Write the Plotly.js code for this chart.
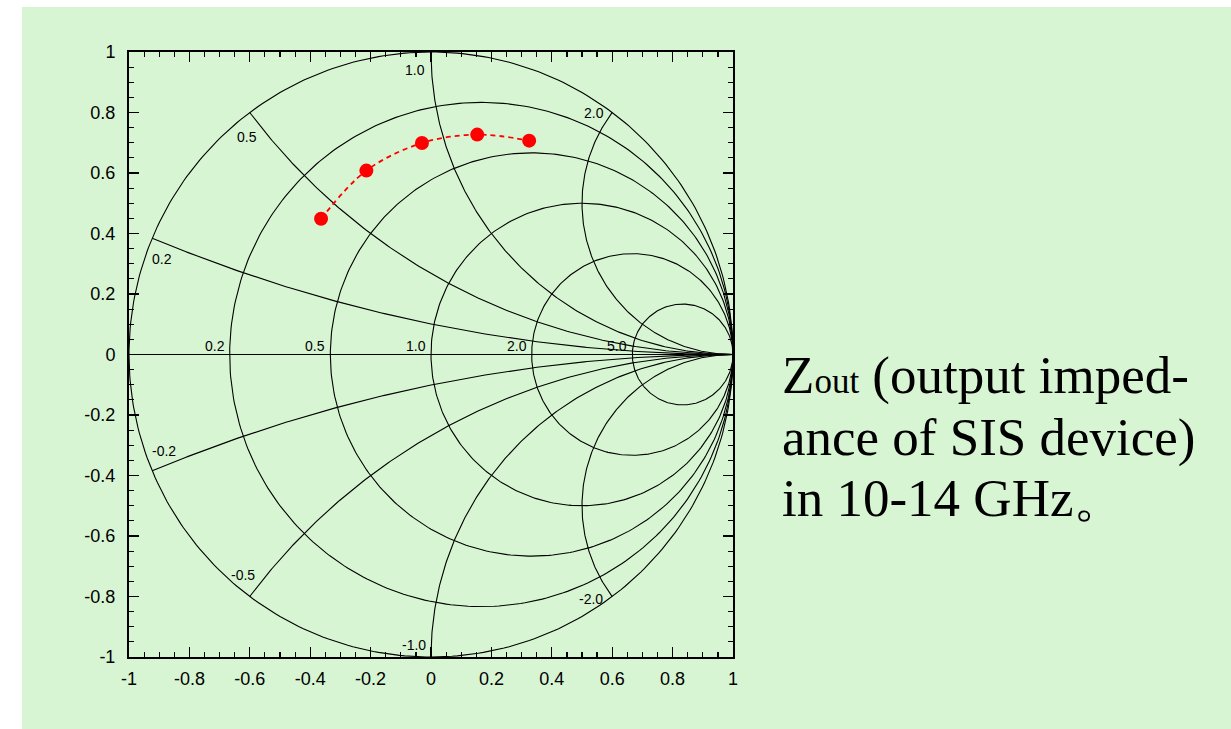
<!DOCTYPE html>
<html><head><meta charset="utf-8">
<script src="https://cdn.plot.ly/plotly-3.0.1.min.js"></script>
<style>
html,body{margin:0;padding:0;background:#ffffff;width:1231px;height:729px;overflow:hidden}
#chart{position:absolute;left:22px;top:7px;width:1209px;height:722px}
</style></head><body><div id="chart"></div>
<script>
// ---- data ----
const gammaRe = [-0.364, -0.214, -0.030, 0.153, 0.325];
const gammaIm = [0.449, 0.608, 0.699, 0.727, 0.707];
const resistanceValues = [0.2, 0.5, 1, 2, 5];
const reactanceValues = [0.2, 0.5, 1, 2, -0.2, -0.5, -1, -2];
const tickVals = [-1, -0.8, -0.6, -0.4, -0.2, 0, 0.2, 0.4, 0.6, 0.8, 1];
const tickLabels = ["-1", "-0.8", "-0.6", "-0.4", "-0.2", "0", "0.2", "0.4", "0.6", "0.8", "1"];
const noteLines = [
  "Z<span style=\"font-size:35px\">out</span> (output imped-",
  "ance of SIS device)",
  "in 10-14 GHz\u3002"
];

// ---- Smith chart grid ----
const gridStyle = {color: '#000000', width: 1.1};
const traces = [];
function addLine(xs, ys) {
  traces.push({type: 'scatter', mode: 'lines', x: xs, y: ys, line: gridStyle,
               hoverinfo: 'skip', showlegend: false});
}
function circlePts(cx, cy, R) {
  const xs = [], ys = [];
  for (let i = 0; i <= 360; i++) {
    const a = i * Math.PI / 180;
    xs.push(cx + R * Math.cos(a)); ys.push(cy + R * Math.sin(a));
  }
  return [xs, ys];
}
// outer circle (r = 0)
let c = circlePts(0, 0, 1); addLine(c[0], c[1]);
// real axis
addLine([-1, 1], [0, 0]);
// constant-resistance circles
resistanceValues.forEach(r => {
  const p = circlePts(r / (1 + r), 0, 1 / (1 + r)); addLine(p[0], p[1]);
});
// constant-reactance arcs (inside unit circle)
function reactanceEnd(x) {
  return [(x * x - 1) / (x * x + 1), 2 * x / (x * x + 1)];
}
reactanceValues.forEach(x => {
  const cy = 1 / x, R = 1 / Math.abs(x);
  const P = reactanceEnd(x);
  let a0 = x > 0 ? -Math.PI / 2 : Math.PI / 2;
  let a1 = Math.atan2(P[1] - cy, P[0] - 1);
  if (x > 0 && a1 > a0) a1 -= 2 * Math.PI;
  if (x < 0 && a1 < a0) a1 += 2 * Math.PI;
  const xs = [], ys = [];
  const n = 200;
  for (let i = 0; i <= n; i++) {
    const a = a0 + (a1 - a0) * i / n;
    xs.push(1 + R * Math.cos(a)); ys.push(cy + R * Math.sin(a));
  }
  addLine(xs, ys);
});

// measured data
traces.push({
  type: 'scatter', mode: 'lines+markers', x: gammaRe, y: gammaIm,
  line: {color: '#ff0000', width: 1.8, dash: '5px,4px', shape: 'spline'},
  marker: {color: '#ff0000', size: 14},
  showlegend: false
});

// ---- labels ----
const labelFont = {family: 'Liberation Sans, Arial, sans-serif', size: 14, color: '#000000'};
const annotations = [];
resistanceValues.forEach(r => {
  annotations.push({x: (r - 1) / (r + 1), y: 0, xref: 'x', yref: 'y', text: r.toFixed(1),
    showarrow: false, xanchor: 'right', yanchor: 'bottom', xshift: -3, yshift: -1, font: labelFont});
});
const reactPlacement = {
  '0.2':  {xanchor: 'left',   yanchor: 'top',    xshift: -2, yshift: -11},
  '0.5':  {xanchor: 'center', yanchor: 'top',    xshift: -3, yshift: -14},
  '1':    {xanchor: 'right',  yanchor: 'top',    xshift: -4, yshift: -8},
  '2':    {xanchor: 'right',  yanchor: 'middle', xshift: -6, yshift: 0},
  '-0.2': {xanchor: 'left',   yanchor: 'bottom', xshift: -2, yshift: 10},
  '-0.5': {xanchor: 'center', yanchor: 'bottom', xshift: -7, yshift: 12},
  '-1':   {xanchor: 'right',  yanchor: 'bottom', xshift: -3, yshift: 2},
  '-2':   {xanchor: 'right',  yanchor: 'middle', xshift: -7, yshift: -2}
};
reactanceValues.forEach(x => {
  const P = reactanceEnd(x);
  const pl = reactPlacement[String(x)];
  annotations.push(Object.assign({x: P[0], y: P[1], xref: 'x', yref: 'y', text: x.toFixed(1),
    showarrow: false, font: labelFont}, pl));
});
// side note
const noteFont = {family: 'Liberation Serif, Times New Roman, serif', size: 53, color: '#000000'};
const noteY = [0.466, 0.362, 0.263];
noteLines.forEach((t, i) => {
  annotations.push({x: 1.077, y: noteY[i], xref: 'paper', yref: 'paper', text: t,
    showarrow: false, xanchor: 'left', yanchor: 'middle', align: 'left', font: noteFont});
});

const axisCommon = {
  range: [-1, 1], fixedrange: true, showgrid: false, zeroline: false,
  showline: true, linecolor: '#000000', linewidth: 2, mirror: 'ticks',
  ticks: 'inside', ticklen: 10, tickwidth: 1.2, tickcolor: '#000000',
  tickmode: 'array', tickvals: tickVals, ticktext: tickLabels,
  tickfont: {family: 'Liberation Sans, Arial, sans-serif', size: 18, color: '#000000'},
  minor: {tickmode: 'linear', tick0: 0, dtick: 0.05, ticks: 'inside', ticklen: 5,
          tickwidth: 1.2, tickcolor: '#000000', showgrid: false}
};

const layout = {
  width: 1209, height: 722,
  margin: {l: 107, r: 498, t: 45, b: 72},
  paper_bgcolor: '#d8f5d3', plot_bgcolor: 'rgba(0,0,0,0)',
  xaxis: Object.assign({ticklabelstandoff: 4}, axisCommon),
  yaxis: Object.assign({ticklabelstandoff: 8}, axisCommon),
  annotations: annotations,
  showlegend: false
};
Plotly.newPlot('chart', traces, layout, {displayModeBar: false, staticPlot: true});
</script></body></html>
